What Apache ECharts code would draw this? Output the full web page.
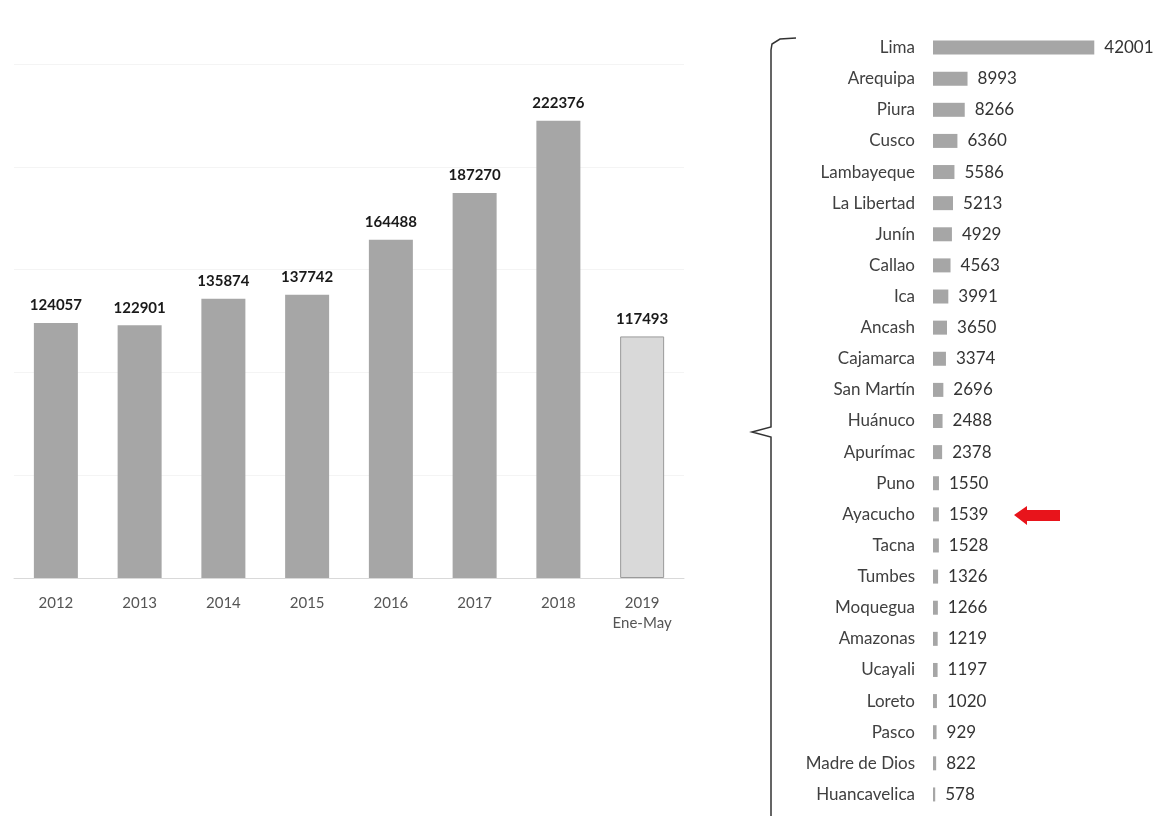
<!DOCTYPE html>
<html>
<head>
<meta charset="utf-8">
<script src="https://cdn.jsdelivr.net/npm/echarts@6/dist/echarts.min.js"></script>
<style>html,body{margin:0;padding:0;background:#fff}#c{width:1156px;height:820px}</style>
</head>
<body>
<div id="c"></div>
<script>
var years = ['2012','2013','2014','2015','2016','2017','2018','2019\nEne-May'];
var yearValues = [124057,122901,135874,137742,164488,187270,222376,117493];
var regions = ['Lima','Arequipa','Piura','Cusco','Lambayeque','La Libertad','Junín','Callao','Ica','Ancash','Cajamarca','San Martín','Huánuco','Apurímac','Puno','Ayacucho','Tacna','Tumbes','Moquegua','Amazonas','Ucayali','Loreto','Pasco','Madre de Dios','Huancavelica'];
var regionValues = [42001,8993,8266,6360,5586,5213,4929,4563,3991,3650,3374,2696,2488,2378,1550,1539,1528,1326,1266,1219,1197,1020,929,822,578];

var FONT = 'Lato, "Open Sans", sans-serif';
var chart = echarts.init(document.getElementById('c'));

var leftData = yearValues.map(function(v, i){
  if (i === yearValues.length - 1) {
    return {value: v, itemStyle: {color: '#d9d9d9', borderColor: '#9a9a9a', borderWidth: 1}};
  }
  return v;
});

chart.setOption({
  backgroundColor: '#ffffff',
  animation: false,
  grid: [
    {left: 14, right: 472, top: 64, bottom: 242},
    {left: 933, width: 192, top: 32, height: 778}
  ],
  xAxis: [
    {type: 'category', gridIndex: 0, data: years,
     axisLine: {lineStyle: {color: '#d9d9d9'}}, axisTick: {show: false},
     axisLabel: {color: '#555555', fontSize: 15, fontFamily: FONT, margin: 15, lineHeight: 20}},
    {type: 'value', gridIndex: 1, min: 0, max: 50000, show: false, splitLine: {show: false}}
  ],
  yAxis: [
    {type: 'value', gridIndex: 0, min: 0, max: 250000, interval: 50000,
     axisLabel: {show: false}, axisLine: {show: false}, axisTick: {show: false},
     splitLine: {lineStyle: {color: '#f4f4f4'}}},
    {type: 'category', gridIndex: 1, data: regions, inverse: true,
     axisLine: {show: false}, axisTick: {show: false},
     axisLabel: {color: '#404040', fontSize: 17, fontFamily: FONT, margin: 18}}
  ],
  series: [
    {type: 'bar', xAxisIndex: 0, yAxisIndex: 0, data: leftData, barWidth: 44,
     itemStyle: {color: '#a6a6a6'},
     label: {show: true, position: 'top', distance: 10, color: '#1a1a1a', fontWeight: 'bold', fontSize: 15, fontFamily: FONT}},
    {type: 'bar', xAxisIndex: 1, yAxisIndex: 1, data: regionValues, barWidth: 14,
     itemStyle: {color: '#a6a6a6'},
     label: {show: true, position: 'right', distance: 10, color: '#333333', fontSize: 17, fontFamily: FONT}}
  ],
  graphic: [
    {type: 'polyline', shape: {points: [[796,38],[780,39],[772,44],[771,50],[771,427],[752,432],[771,437],[771,816]]},
     style: {stroke: '#333333', lineWidth: 1.5, fill: null}},
    {type: 'polygon', shape: {points: [[1014,515],[1027,506],[1027,510],[1060,510],[1060,521],[1027,521],[1027,525]]},
     style: {fill: '#e8141b'}}
  ]
});
</script>
</body>
</html>
